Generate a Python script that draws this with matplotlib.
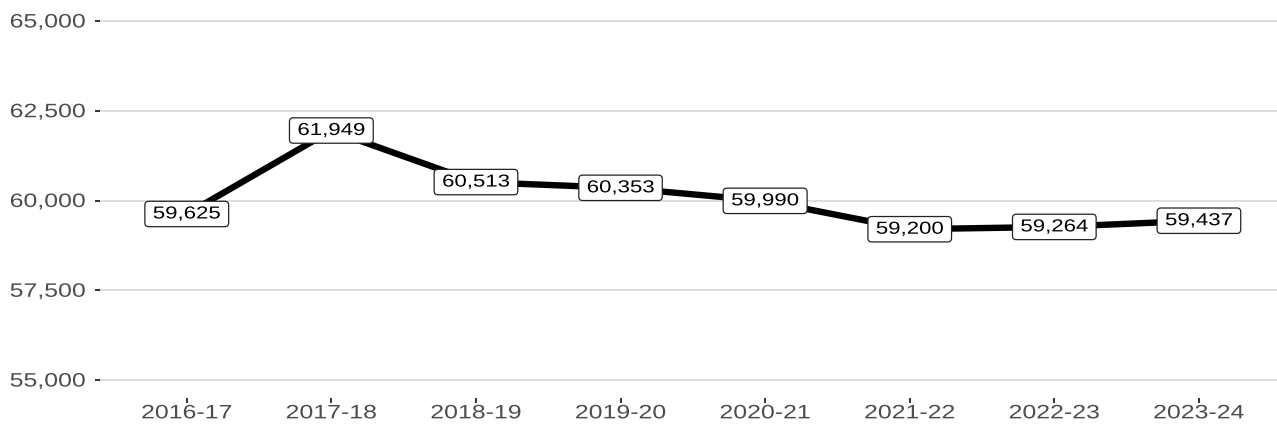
import matplotlib.pyplot as plt
from matplotlib.ticker import FuncFormatter
from matplotlib.patheffects import AbstractPathEffect
from matplotlib.patches import BoxStyle
from matplotlib.transforms import Affine2D

years = ['2016-17', '2017-18', '2018-19', '2019-20', '2020-21', '2021-22', '2022-23', '2023-24']
values = [59625, 61949, 60513, 60353, 59990, 59200, 59264, 59437]
yticks = [55000, 57500, 60000, 62500, 65000]

plt.rcParams['font.family'] = ['Liberation Sans', 'DejaVu Sans']

SX = 1.28  # the reference text is drawn horizontally stretched


class StretchX(AbstractPathEffect):
    # widen glyphs around their centre (or right edge)
    def __init__(self, sx, anchor='center'):
        super().__init__()
        self.sx = sx
        self.anchor = anchor

    def draw_path(self, renderer, gc, tpath, affine, rgbFace=None):
        xs = tpath.vertices[:, 0]
        if len(xs) == 0:
            return
        cx = xs.max() if self.anchor == 'right' else (xs.min() + xs.max()) / 2
        t = Affine2D().translate(-cx, 0).scale(self.sx, 1).translate(cx, 0) + affine
        renderer.draw_path(gc, tpath, t, rgbFace)


class WideRound(BoxStyle.Round):
    def __init__(self, pad=0.2, rounding_size=None, sx=1.0, xpad=0.0):
        super().__init__(pad=pad, rounding_size=rounding_size)
        self.sx = sx
        self.xpad = xpad

    def __call__(self, x0, y0, width, height, mutation_size):
        extra = width * (self.sx - 1) / 2 + self.xpad * mutation_size
        return super().__call__(x0 - extra, y0, width + 2 * extra, height, mutation_size)


fig = plt.figure(figsize=(12.77, 4.28), dpi=100)
ax = fig.add_axes([100 / 1277, 30 / 428, 1177 / 1277, 395 / 428])

x = list(range(len(years)))
ax.plot(x, values, color='black', linewidth=4.6, solid_capstyle='butt', zorder=2)
for xi, v in zip(x, values):
    ax.text(xi, v, f'{v:,}', ha='center', va='center', fontsize=12.5, color='black', zorder=3,
            path_effects=[StretchX(SX)],
            bbox=dict(boxstyle=WideRound(pad=0.3, rounding_size=0.22, sx=SX, xpad=0.15),
                      fc='white', ec='#222222', lw=0.9))

ax.set_xlim(-0.6, 7.54)
ax.set_ylim(54500, 65500)
ax.set_xticks(x)
ax.set_xticklabels(years)
ax.set_yticks(yticks)
ax.yaxis.set_major_formatter(FuncFormatter(lambda v, p: f'{int(v):,}'))

ax.grid(axis='y', color='#dedede', linewidth=1.4, zorder=0)
ax.grid(axis='x', visible=False)
for s in ax.spines.values():
    s.set_visible(False)
ax.tick_params(axis='both', length=3.8, width=1.4, color='#333333', labelcolor='#4d4d4d',
               labelsize=14)
ax.tick_params(axis='y', pad=6.5)
ax.tick_params(axis='x', pad=1.5)

for lab in ax.get_yticklabels():
    lab.set_path_effects([StretchX(SX, 'right')])
for lab in ax.get_xticklabels():
    lab.set_path_effects([StretchX(SX)])

fig.savefig('out.png', dpi=100)
